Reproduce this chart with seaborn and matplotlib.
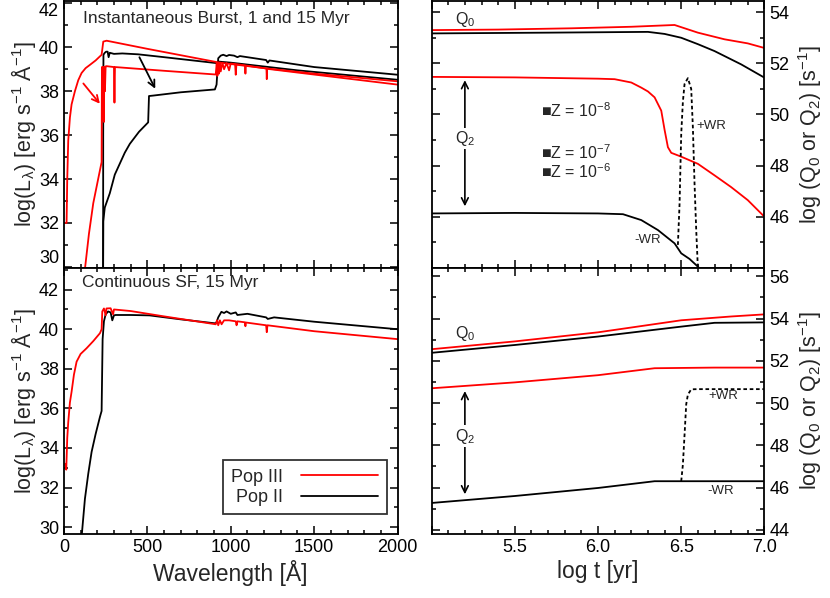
import numpy as np
import matplotlib
matplotlib.use("Agg")
import matplotlib.pyplot as plt
from matplotlib.ticker import MultipleLocator
import seaborn as sns

sns.set_theme(style="ticks")
plt.rcParams['font.family'] = ['Liberation Sans', 'DejaVu Sans']
plt.rcParams['mathtext.fontset'] = 'custom'
plt.rcParams['mathtext.rm'] = 'Liberation Sans'
plt.rcParams['mathtext.it'] = 'Liberation Sans:italic'
plt.rcParams['mathtext.default'] = 'regular'

### instantaneous burst spectra (wavelength in A, log L)
p3_1myr_wl = [10, 16, 20, 26, 36, 46, 66, 86, 106, 130, 156, 190, 226, 236, 256, 500, 934, 1200, 1500, 2000]
p3_1myr_L = [32.0, 32.0, 34.0, 35.75, 36.8, 37.4, 38.0, 38.5, 38.83, 39.05, 39.2, 39.4, 39.66, 40.26, 40.3,
             39.93, 39.3, 39.05, 38.8, 38.45]

p3_15myr_wl = [126, 150, 176, 200, 216, 226, 228, 232, 234, 236, 238, 240, 242, 246, 250, 256, 300, 303, 306,
               600, 910, 916, 920, 925, 930, 935, 940, 950, 960, 975, 990, 1000, 1026, 1030, 1034, 1085, 1088,
               1091, 1200, 1214, 1216, 1218, 1400, 2000]
p3_15myr_L = [29.9, 31.5, 32.9, 33.8, 34.4, 34.77, 39.1, 36.7, 39.1, 37.3, 39.1, 36.6, 39.1, 38.0, 39.13, 39.14,
              39.1, 37.48, 39.1, 38.93, 38.76, 39.28, 38.7, 39.3, 38.8, 39.3, 38.9, 39.3, 39.0, 39.28, 38.95,
              39.26, 39.24, 38.75, 39.23, 39.18, 38.8, 39.17, 39.05, 39.03, 38.55, 39.02, 38.85, 38.3]

p2_1myr_wl = [235, 235.5, 237, 245, 253, 262, 268, 275, 300, 350, 445, 600, 914, 925, 1000, 1400, 2000]
p2_1myr_L = [29.9, 36.0, 39.66, 39.75, 39.8, 39.8, 39.55, 39.75, 39.7, 39.72, 39.68, 39.55, 39.28, 39.35,
             39.3, 38.95, 38.52]

p2_15myr_wl = [235, 236, 245, 275, 305, 335, 365, 395, 450, 505, 510, 535, 700, 905, 915, 925, 940, 955, 975,
               990, 1020, 1040, 1055, 1212, 1222, 1232, 1500, 2000]
p2_15myr_L = [29.9, 32.07, 32.7, 33.35, 34.2, 34.7, 35.2, 35.6, 36.15, 36.58, 37.78, 37.8, 37.95, 38.08, 38.3,
              39.5, 39.62, 39.66, 39.6, 39.65, 39.62, 39.55, 39.6, 39.42, 39.3, 39.4, 39.1, 38.75]

### continuous SF spectra
p3_cont_wl = [8, 14, 20, 26, 36, 46, 60, 76, 100, 136, 176, 216, 226, 230, 240, 250, 255, 280, 295, 300, 400,
              600, 910, 918, 925, 935, 945, 960, 990, 1030, 1035, 1040, 1085, 1088, 1091, 1212, 1216, 1220,
              1500, 2000]
p3_cont_L = [33.2, 32.9, 34.5, 35.3, 36.3, 36.84, 37.7, 38.36, 38.75, 39.04, 39.4, 39.8, 40.0, 40.9, 41.05,
             40.7, 41.05, 41.06, 40.75, 41.0, 40.92, 40.65, 40.25, 40.45, 40.2, 40.45, 40.25, 40.45, 40.45,
             40.4, 40.2, 40.4, 40.35, 40.15, 40.34, 40.2, 39.85, 40.2, 39.9, 39.5]

p2_cont_wl = [106, 126, 146, 166, 190, 216, 226, 232, 240, 250, 265, 280, 290, 300, 310, 400, 513, 700, 905,
              915, 925, 944, 960, 975, 1000, 1030, 1040, 1100, 1212, 1222, 1260, 1500, 2000]
p2_cont_L = [29.5, 31.43, 32.7, 33.8, 34.7, 35.57, 35.87, 39.5, 40.4, 40.75, 40.9, 40.85, 40.45, 40.7, 40.72,
             40.72, 40.7, 40.5, 40.3, 40.35, 40.6, 40.88, 40.82, 40.9, 40.78, 40.85, 40.72, 40.78, 40.6, 40.52,
             40.6, 40.38, 40.0]

### ionizing photon rates, burst (log t, log Q)
b_q0_p3_t = [5.0, 5.4, 5.84, 6.2, 6.46, 6.6, 6.76, 6.9, 7.0]
b_q0_p3 = [53.3, 53.32, 53.37, 53.43, 53.5, 53.2, 52.94, 52.78, 52.6]
b_q0_p2_t = [5.0, 5.7, 6.3, 6.4, 6.5, 6.6, 6.7, 6.86, 7.0]
b_q0_p2 = [53.17, 53.2, 53.23, 53.15, 53.0, 52.75, 52.48, 51.96, 51.44]
b_q2_p3_t = [5.0, 5.5, 6.0, 6.1, 6.2, 6.26, 6.3, 6.34, 6.38, 6.4, 6.42, 6.44, 6.5, 6.6, 6.7, 6.8, 6.9, 7.0]
b_q2_p3 = [51.47, 51.45, 51.4, 51.38, 51.25, 51.05, 50.9, 50.67, 50.15, 49.4, 48.72, 48.5, 48.35, 48.07,
           47.62, 47.16, 46.65, 46.0]
b_q2_p2_t = [5.0, 5.5, 6.0, 6.15, 6.26, 6.36, 6.46, 6.5, 6.55, 6.6, 6.62]
b_q2_p2 = [46.13, 46.15, 46.13, 46.1, 45.87, 45.48, 44.96, 44.57, 44.35, 44.05, 43.9]
b_wr_t = [6.48, 6.49, 6.5, 6.51, 6.52, 6.54, 6.56, 6.57, 6.58, 6.59, 6.6, 6.61]
b_wr = [44.9, 46.5, 49.24, 50.5, 51.19, 51.42, 51.0, 49.5, 47.3, 45.5, 44.0, 43.5]

### continuous SF
c_q0_p3_t = [5.0, 5.5, 6.0, 6.5, 6.8, 7.0]
c_q0_p3 = [52.55, 52.92, 53.35, 53.92, 54.1, 54.2]
c_q0_p2_t = [5.0, 5.5, 6.0, 6.5, 6.7, 7.0]
c_q0_p2 = [52.38, 52.75, 53.15, 53.62, 53.8, 53.82]
c_q2_p3_t = [5.0, 5.5, 6.0, 6.34, 6.7, 7.0]
c_q2_p3 = [50.7, 50.98, 51.32, 51.65, 51.68, 51.68]
c_q2_p2_t = [5.0, 5.5, 6.0, 6.34, 7.0]
c_q2_p2 = [45.27, 45.6, 45.98, 46.3, 46.3]
c_wr_t = [6.5, 6.51, 6.52, 6.53, 6.54, 6.56, 6.6, 7.0]
c_wr = [46.3, 47.09, 48.5, 49.94, 50.4, 50.65, 50.66, 50.66]

z_labels = ['Z = 10$^{-8}$', 'Z = 10$^{-7}$', 'Z = 10$^{-6}$']


fig = plt.figure(figsize=(8.3, 5.98), dpi=100)
ax_tl = fig.add_axes([0.077, 0.552, 0.402, 0.446])
ax_bl = fig.add_axes([0.077, 0.107, 0.402, 0.445])
ax_tr = fig.add_axes([0.520, 0.552, 0.401, 0.446])
ax_br = fig.add_axes([0.520, 0.107, 0.401, 0.445])

RED = '#ff0000'
lw = 1.3

def line(ax, x, y, color, ls='-', label=None, w=lw):
    sns.lineplot(x=x, y=y, ax=ax, color=color, lw=w, linestyle=ls, estimator=None,
                 sort=False, label=label, legend=False)

### spectra panels
line(ax_tl, p2_1myr_wl, p2_1myr_L, 'black')
line(ax_tl, p2_15myr_wl, p2_15myr_L, 'black')
line(ax_tl, p3_1myr_wl, p3_1myr_L, RED)
line(ax_tl, p3_15myr_wl, p3_15myr_L, RED)
ax_tl.annotate('', xy=(226, 37.33), xytext=(106, 38.45),
               arrowprops=dict(arrowstyle='->', color=RED, lw=1.3))
ax_tl.annotate('', xy=(555, 38.0), xytext=(445, 39.66),
               arrowprops=dict(arrowstyle='->', color='black', lw=1.3))
ax_tl.text(0.057, 0.935, 'Instantaneous Burst, 1 and 15 Myr', transform=ax_tl.transAxes,
           fontsize=12.5, va='center')

line(ax_bl, p2_cont_wl, p2_cont_L, 'black', label='Pop II')
line(ax_bl, p3_cont_wl, p3_cont_L, RED, label='Pop III')
ax_bl.text(0.055, 0.944, 'Continuous SF, 15 Myr', transform=ax_bl.transAxes,
           fontsize=12.5, va='center')
h, l = ax_bl.get_legend_handles_labels()
leg = ax_bl.legend(h[::-1], l[::-1], loc='lower right', bbox_to_anchor=(0.967, 0.074),
                   markerfirst=False, handlelength=4.3, fontsize=13, frameon=True,
                   fancybox=False, edgecolor='black', borderaxespad=0, labelspacing=0.2,
                   borderpad=0.45, handletextpad=1.0)
leg.get_frame().set_linewidth(1.3)

for ax in (ax_tl, ax_bl):
    ax.set_xlim(0, 2000)
    ax.xaxis.set_major_locator(MultipleLocator(500))
    ax.xaxis.set_minor_locator(MultipleLocator(100))
    ax.yaxis.set_minor_locator(MultipleLocator(1))
    ax.set_yticks([30, 32, 34, 36, 38, 40, 42])
    ax.set_ylabel('log(L$_λ$) [erg s$^{-1}$ Å$^{-1}$]', fontsize=15.5, labelpad=1)
ax_tl.set_ylim(29.95, 42.1)
ax_bl.set_ylim(29.65, 43.1)
ax_tl.tick_params(labelbottom=False)
ax_bl.set_xlabel('Wavelength [Å]', fontsize=16.5, labelpad=3)

### photon rate panels
line(ax_tr, b_q0_p3_t, b_q0_p3, RED)
line(ax_tr, b_q0_p2_t, b_q0_p2, 'black')
line(ax_tr, b_q2_p3_t, b_q2_p3, RED)
line(ax_tr, b_q2_p2_t, b_q2_p2, 'black')
line(ax_tr, b_wr_t, b_wr, 'black', ls=(0, (2, 1.5)))
ax_tr.text(5.2, 53.7, 'Q$_0$', fontsize=11.5, ha='center', va='center')
ax_tr.text(5.2, 49.06, 'Q$_2$', fontsize=11.5, ha='center', va='center',
           bbox=dict(fc='white', ec='none', pad=1))
ax_tr.annotate('', xy=(5.2, 51.45), xytext=(5.2, 46.3),
               arrowprops=dict(arrowstyle='<->', color='black', lw=1.2), zorder=1)
ax_tr.text(6.68, 49.56, '+WR', fontsize=9.5, ha='center', va='center')
ax_tr.text(6.3, 45.1, '-WR', fontsize=9.5, ha='center', va='center')
for zl, zy in zip(z_labels, [50.15, 48.5, 47.75]):
    ax_tr.text(5.66, zy, '■' + zl, fontsize=11.5, va='center')

line(ax_br, c_q0_p3_t, c_q0_p3, RED)
line(ax_br, c_q0_p2_t, c_q0_p2, 'black')
line(ax_br, c_q2_p3_t, c_q2_p3, RED)
line(ax_br, c_q2_p2_t, c_q2_p2, 'black')
line(ax_br, c_wr_t, c_wr, 'black', ls=(0, (2, 1.5)))
ax_br.text(5.2, 53.3, 'Q$_0$', fontsize=11.5, ha='center', va='center')
ax_br.text(5.2, 48.43, 'Q$_2$', fontsize=11.5, ha='center', va='center',
           bbox=dict(fc='white', ec='none', pad=1))
ax_br.annotate('', xy=(5.2, 50.7), xytext=(5.2, 45.55),
               arrowprops=dict(arrowstyle='<->', color='black', lw=1.2), zorder=1)
ax_br.text(6.75, 50.33, '+WR', fontsize=9.5, ha='center', va='center')
ax_br.text(6.74, 45.82, '-WR', fontsize=9.5, ha='center', va='center')

for ax in (ax_tr, ax_br):
    ax.set_xlim(5.0, 7.0)
    ax.xaxis.set_major_locator(MultipleLocator(0.5))
    ax.xaxis.set_minor_locator(MultipleLocator(0.1))
    ax.yaxis.set_major_locator(MultipleLocator(2))
    ax.yaxis.set_minor_locator(MultipleLocator(1))
    ax.yaxis.set_label_position('right')
    ax.set_ylabel('log (Q$_0$ or Q$_2$) [s$^{-1}$]', fontsize=15.5, labelpad=5)
ax_tr.set_ylim(44.0, 54.43)
ax_br.set_ylim(43.8, 56.4)
ax_tr.set_yticks([44, 46, 48, 50, 52, 54])
ax_tr.set_yticklabels(['', '46', '48', '50', '52', '54'])
ax_tr.tick_params(labelbottom=False)
ax_br.set_xticks([5.0, 5.5, 6.0, 6.5, 7.0])
ax_br.set_xticklabels(['', '5.5', '6.0', '6.5', '7.0'])
ax_br.set_xlabel('log t [yr]', fontsize=16.5, labelpad=3)

for ax in (ax_tl, ax_bl, ax_tr, ax_br):
    ax.tick_params(which='both', direction='in', top=True, right=True, colors='black',
                   labelsize=13, width=1.1)
    ax.tick_params(which='major', length=6)
    ax.tick_params(which='minor', length=3)
    for s in ax.spines.values():
        s.set_linewidth(1.3)
        s.set_color('black')
for ax in (ax_tr, ax_br):
    ax.tick_params(labelleft=False, labelright=True)

# keep the end labels of the top left panel inside the figure
tl_ticks = ax_tl.yaxis.get_major_ticks()
tl_ticks[0].label1.set_verticalalignment('bottom')
tl_ticks[-1].label1.set_verticalalignment('top')

fig.savefig('out.png', dpi=100)
